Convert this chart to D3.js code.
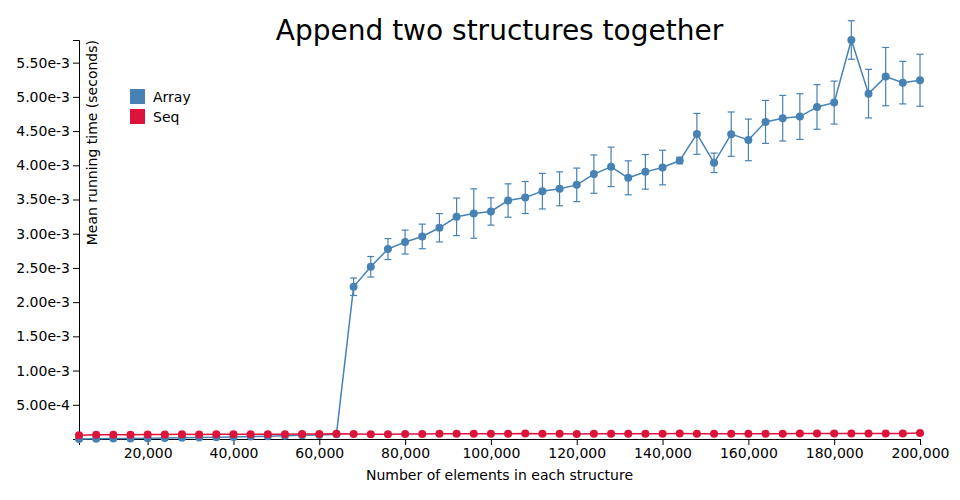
<!DOCTYPE html>
<html>
<head>
<meta charset="utf-8">
<script src="https://cdn.jsdelivr.net/npm/d3@7"></script>
<style>
  body { margin: 0; background: #fff; }
  svg { font-family: "DejaVu Sans", sans-serif; }
</style>
</head>
<body>
<svg id="chart" width="960" height="500"></svg>
<script>
const title = "Append two structures together";
const xLabel = "Number of elements in each structure";
const yLabel = "Mean running time (seconds)";
const seriesNames = ["Array", "Seq"];
const seriesColors = ["#4682b4", "#dc143c"];

const sizes = [4000, 8000, 12000, 16000, 20000, 24000, 28000, 32000, 36000, 40000,
  44000, 48000, 52000, 56000, 60000, 64000, 68000, 72000, 76000, 80000,
  84000, 88000, 92000, 96000, 100000, 104000, 108000, 112000, 116000, 120000,
  124000, 128000, 132000, 136000, 140000, 144000, 148000, 152000, 156000, 160000,
  164000, 168000, 172000, 176000, 180000, 184000, 188000, 192000, 196000, 200000];

const arrayMean = [1e-6, 3e-6, 6e-6, 9e-6, 1.2e-5, 1.5e-5, 1.9e-5, 2.3e-5, 2.7e-5, 3.1e-5,
  3.5e-5, 4.0e-5, 4.6e-5, 5.3e-5, 6.0e-5, 7.0e-5, 2.225e-3, 2.517e-3, 2.776e-3, 2.878e-3,
  2.960e-3, 3.087e-3, 3.247e-3, 3.295e-3, 3.325e-3, 3.485e-3, 3.529e-3, 3.622e-3, 3.656e-3, 3.714e-3,
  3.871e-3, 3.977e-3, 3.817e-3, 3.904e-3, 3.967e-3, 4.069e-3, 4.459e-3, 4.036e-3, 4.455e-3, 4.371e-3,
  4.634e-3, 4.688e-3, 4.712e-3, 4.853e-3, 4.916e-3, 5.831e-3, 5.047e-3, 5.296e-3, 5.208e-3, 5.243e-3];

const arrayErr = [3e-6, 3e-6, 3e-6, 3e-6, 3e-6, 3e-6, 3e-6, 3e-6, 3e-6, 3e-6,
  3e-6, 3e-6, 3e-6, 3e-6, 3e-6, 3e-6, 1.28e-4, 1.50e-4, 1.53e-4, 1.75e-4,
  1.80e-4, 2.07e-4, 2.74e-4, 3.61e-4, 2.00e-4, 2.44e-4, 2.34e-4, 2.60e-4, 2.48e-4, 2.45e-4,
  2.80e-4, 2.88e-4, 2.48e-4, 2.53e-4, 2.53e-4, 4.7e-5, 2.99e-4, 1.42e-4, 3.24e-4, 3.04e-4,
  3.14e-4, 3.33e-4, 3.34e-4, 3.26e-4, 3.14e-4, 2.82e-4, 3.55e-4, 4.26e-4, 3.11e-4, 3.80e-4];

const seqMean = [5.3e-5, 6.2e-5, 6.3e-5, 6.1e-5, 6.4e-5, 6.5e-5, 6.8e-5, 6.6e-5, 7.0e-5, 6.9e-5,
  7.1e-5, 6.8e-5, 7.0e-5, 7.3e-5, 7.3e-5, 7.6e-5, 7.2e-5, 7.1e-5, 7.1e-5, 7.3e-5,
  7.3e-5, 7.8e-5, 7.7e-5, 7.5e-5, 7.6e-5, 7.6e-5, 8.0e-5, 7.6e-5, 7.6e-5, 7.3e-5,
  7.6e-5, 7.6e-5, 7.7e-5, 7.7e-5, 7.6e-5, 7.9e-5, 7.7e-5, 7.7e-5, 7.6e-5, 7.8e-5,
  7.8e-5, 7.8e-5, 7.9e-5, 7.9e-5, 8.0e-5, 8.0e-5, 7.9e-5, 8.0e-5, 8.0e-5, 8.7e-5];

const seqErr = [4e-6, 4e-6, 4e-6, 4e-6, 4e-6, 4e-6, 4e-6, 4e-6, 4e-6, 4e-6,
  4e-6, 4e-6, 4e-6, 4e-6, 4e-6, 4e-6, 4e-6, 4e-6, 4e-6, 4e-6,
  4e-6, 4e-6, 4e-6, 4e-6, 4e-6, 4e-6, 4e-6, 4e-6, 4e-6, 4e-6,
  4e-6, 4e-6, 4e-6, 4e-6, 4e-6, 4e-6, 4e-6, 4e-6, 4e-6, 4e-6,
  4e-6, 4e-6, 4e-6, 4e-6, 4e-6, 4e-6, 4e-6, 4e-6, 4e-6, 4e-6];

const seriesMeans = [arrayMean, seqMean];
const seriesErrs = [arrayErr, seqErr];

const margin = {top: 40, right: 40, bottom: 61, left: 79};
const W = 960, H = 500;
const svg = d3.select("#chart");

const x = d3.scaleLinear()
  .domain(d3.extent(sizes))
  .range([margin.left, W - margin.right]);
const y = d3.scaleLinear()
  .domain([0, d3.max(arrayMean.concat(seqMean))])
  .range([H - margin.bottom, margin.top]);

// axes
svg.append("g")
  .attr("transform", `translate(0,${H - margin.bottom})`)
  .call(d3.axisBottom(x).ticks(10).tickFormat(d3.format(",")))
  .call(g => g.selectAll("text").attr("font-size", 14).attr("font-family", "DejaVu Sans"));

svg.append("g")
  .attr("transform", `translate(${margin.left},0)`)
  .call(d3.axisLeft(y).tickValues(d3.range(1, 12).map(i => i * 5e-4))
    .tickFormat(d => d.toExponential(2).replace("+", "")))
  .call(g => g.selectAll("text").attr("font-size", 14).attr("font-family", "DejaVu Sans"));

// title and labels
svg.append("text")
  .attr("x", (margin.left + W - margin.right) / 2)
  .attr("y", 40)
  .attr("text-anchor", "middle")
  .attr("font-size", 28)
  .text(title);

svg.append("text")
  .attr("x", (margin.left + W - margin.right) / 2)
  .attr("y", 480)
  .attr("text-anchor", "middle")
  .attr("font-size", 14)
  .text(xLabel);

svg.append("text")
  .attr("transform", `translate(97,${margin.top}) rotate(-90)`)
  .attr("text-anchor", "end")
  .attr("font-size", 14)
  .text(yLabel);

// series
const line = d3.line().x(d => x(d.x)).y(d => y(d.m));
seriesNames.forEach((name, si) => {
  const color = seriesColors[si];
  const data = sizes.map((s, i) => ({x: s, m: seriesMeans[si][i], e: seriesErrs[si][i]}));
  const g = svg.append("g");
  const eb = g.selectAll(".eb").data(data).enter().append("g");
  eb.append("line")
    .attr("x1", d => x(d.x)).attr("x2", d => x(d.x))
    .attr("y1", d => y(d.m - d.e)).attr("y2", d => y(d.m + d.e))
    .attr("stroke", color).attr("stroke-width", 1.2);
  eb.append("line")
    .attr("x1", d => x(d.x) - 3.5).attr("x2", d => x(d.x) + 3.5)
    .attr("y1", d => y(d.m + d.e)).attr("y2", d => y(d.m + d.e))
    .attr("stroke", color).attr("stroke-width", 1.2);
  eb.append("line")
    .attr("x1", d => x(d.x) - 3.5).attr("x2", d => x(d.x) + 3.5)
    .attr("y1", d => y(d.m - d.e)).attr("y2", d => y(d.m - d.e))
    .attr("stroke", color).attr("stroke-width", 1.2);
  g.append("path").datum(data)
    .attr("d", line)
    .attr("fill", "none")
    .attr("stroke", color)
    .attr("stroke-width", 1.5);
  g.selectAll("circle").data(data).enter().append("circle")
    .attr("cx", d => x(d.x)).attr("cy", d => y(d.m))
    .attr("r", 4).attr("fill", color);
});

// legend
const legend = svg.append("g").attr("transform", "translate(130,89)");
seriesNames.forEach((name, i) => {
  legend.append("rect")
    .attr("x", 0).attr("y", i * 20)
    .attr("width", 15).attr("height", 15)
    .attr("fill", seriesColors[i]);
  legend.append("text")
    .attr("x", 23).attr("y", i * 20 + 13)
    .attr("font-size", 14)
    .text(name);
});
</script>
</body>
</html>
